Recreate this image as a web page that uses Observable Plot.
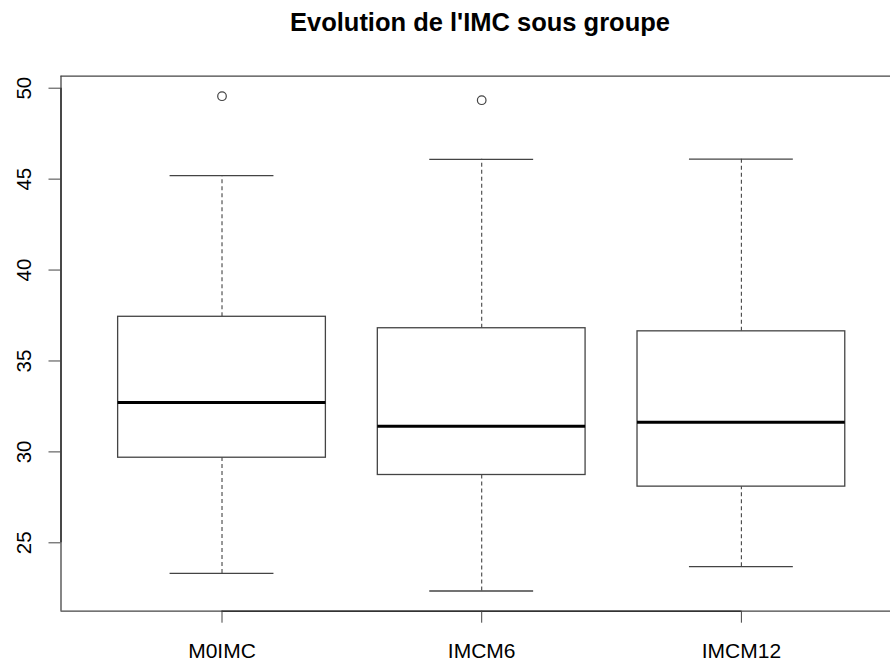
<!DOCTYPE html>
<html>
<head>
<meta charset="utf-8">
<script src="https://cdn.jsdelivr.net/npm/d3@7"></script>
<script src="https://cdn.jsdelivr.net/npm/@observablehq/plot@0.6"></script>
<style>
  html, body { margin: 0; padding: 0; background: white; width: 890px; height: 663px; overflow: hidden; }
  #title { position: absolute; left: 60px; top: 9.5px; width: 840px; height: 25.5px; line-height: 25.5px;
           text-align: center; font-family: "Liberation Sans", Arial, sans-serif; font-weight: bold; font-size: 25.5px; color: #000; }
  #chart { position: absolute; left: 0; top: 50px; width: 890px; height: 613px; overflow: hidden; }
</style>
</head>
<body>
<div id="title">Evolution de l'IMC sous groupe</div>
<div id="chart"></div>
<script>
const categories = ["M0IMC", "IMCM6", "IMCM12"];
const lowerWhisker = [23.32, 22.35, 23.69];
const q1 = [29.68, 28.73, 28.09];
const median = [32.71, 31.41, 31.63];
const q3 = [37.43, 36.80, 36.63];
const upperWhisker = [45.19, 46.09, 46.10];
const outlierGroups = ["M0IMC", "IMCM6"];
const outlierValues = [49.56, 49.34];
const yTicks = [25, 30, 35, 40, 45, 50];

const rows = categories.map((c, i) => ({
  group: c, pos: i + 1,
  lower: lowerWhisker[i], q1: q1[i], median: median[i], q3: q3[i], upper: upperWhisker[i]
}));
const outliers = outlierGroups.map((g, i) => ({ pos: categories.indexOf(g) + 1, value: outlierValues[i] }));

const xDomain = [0.38, 3.62];
const yDomain = [21.24, 50.66];
const lineColor = "#444";
const lw = 1.3;

const chart = Plot.plot({
  width: 890,
  height: 613,
  marginLeft: 60.5,
  marginRight: 0,
  marginTop: 25.7,
  marginBottom: 52.3,
  style: { fontFamily: "'Liberation Sans', Arial, sans-serif", fontSize: "20px", color: "#000", background: "white" },
  x: { type: "linear", domain: xDomain, range: [60.5, 901.9] },
  y: { type: "linear", domain: yDomain },
  marks: [
    // plot box (right side lies beyond the visible page, as in the reference)
    Plot.ruleY([yDomain[0], yDomain[1]], { x1: xDomain[0], x2: xDomain[1], stroke: lineColor, strokeWidth: lw }),
    Plot.ruleX([xDomain[0]], { y1: yDomain[0], y2: yDomain[1], stroke: lineColor, strokeWidth: lw }),
    // whiskers
    Plot.ruleX(rows, { x: "pos", y1: "q3", y2: "upper", stroke: lineColor, strokeWidth: 1.1, strokeDasharray: "4,3" }),
    Plot.ruleX(rows, { x: "pos", y1: "lower", y2: "q1", stroke: lineColor, strokeWidth: 1.1, strokeDasharray: "4,3" }),
    // staples
    Plot.ruleY(rows, { y: "upper", x1: d => d.pos - 0.2, x2: d => d.pos + 0.2, stroke: lineColor, strokeWidth: lw }),
    Plot.ruleY(rows, { y: "lower", x1: d => d.pos - 0.2, x2: d => d.pos + 0.2, stroke: lineColor, strokeWidth: lw }),
    // boxes
    Plot.rect(rows, { x1: d => d.pos - 0.4, x2: d => d.pos + 0.4, y1: "q1", y2: "q3", fill: "white", stroke: lineColor, strokeWidth: lw }),
    // medians
    Plot.ruleY(rows, { y: "median", x1: d => d.pos - 0.4, x2: d => d.pos + 0.4, stroke: "#000", strokeWidth: 3 }),
    // outliers
    Plot.dot(outliers, { x: "pos", y: "value", r: 4.3, stroke: lineColor, strokeWidth: 1.2, fill: "none" }),
    // axis lines (R draws axis lines between first and last ticks)
    Plot.ruleY([yDomain[0]], { x1: 1, x2: 3, stroke: "#333", strokeWidth: 1.5 }),
    Plot.ruleX([xDomain[0]], { y1: yTicks[0], y2: yTicks[yTicks.length - 1], stroke: "#333", strokeWidth: 1.5 }),
    // axes
    Plot.axisX({ ticks: [1, 2, 3], tickFormat: d => categories[d - 1], tickSize: 12, tickPadding: 20, stroke: lineColor, fontSize: 21, label: null }),
    Plot.axisY({ ticks: yTicks, tickSize: 12, text: null, stroke: lineColor, label: null }),
    Plot.text(yTicks, { x: xDomain[0], y: d => d, text: d => String(d), rotate: -90, textAnchor: "middle", lineAnchor: "middle", dx: -36.5, fontSize: 20.5, fill: "#000" })
  ]
});
document.getElementById("chart").appendChild(chart);
</script>
</body>
</html>
